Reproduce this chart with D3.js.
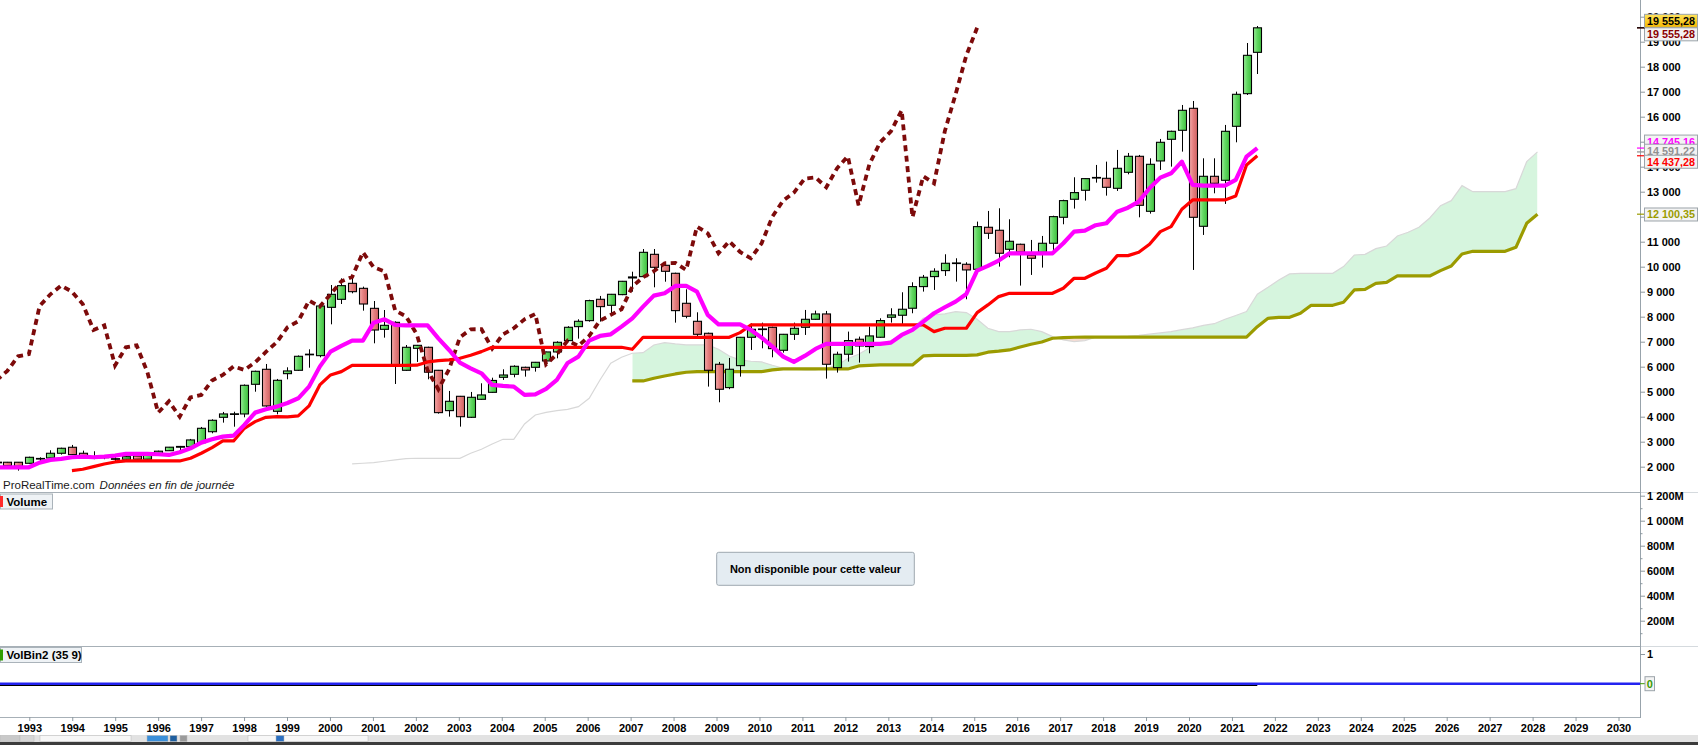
<!DOCTYPE html>
<html><head><meta charset="utf-8">
<script src="https://cdn.jsdelivr.net/npm/d3@7"></script>
<style>
body{margin:0;background:#fff;overflow:hidden;}
svg{display:block;font-family:"Liberation Sans",Arial,sans-serif;}
</style></head><body>
<svg id="c" width="1698" height="745"></svg>
<script>
// ---------- DATA (quarterly candles, index -1 .. 116) ----------
const candleStart = -1;
const openV = [2180,2178,2178,2136,2310,2350,2537,2777,2537,2400,
 2370,2320,2300,2430,2300,2530,2640,2780,2800,2960,
 3400,3976,4105,4110,5296,5896,4216,5722,5856,6480,
 6442,8375,8695,9335,9135,8335,7495,7775,5856,6735,
 6776,5856,4243,4816,3976,4696,4975,5576,5696,5976,
 5976,6230,6590,7043,7603,7843,8696,8456,8883,9550,
 9603,10495,10056,9736,8536,7816,7336,6097,5164,6043,
 7176,7510,7576,6657,7296,7576,7896,8110,5964,6498,
 7098,6804,7178,7978,8058,8338,9204,9604,9844,10130,
 10097,9897,11577,11457,10697,10897,10457,10577,10937,11977,
 12697,13057,13560,13536,13136,13776,14416,12216,14230,15096,
 15456,16336,11616,13616,13456,15616,16922,18575];
const highV = [2200,2190,2180,2400,2376,2657,2760,2870,2643,2617,
 2450,2380,2420,2450,2480,2640,2790,2830,3110,3590,
 3896,4190,4200,5290,5840,6109,5510,5976,6450,6696,
 8450,9268,9535,9575,9202,8628,8268,7815,6868,6870,
 6800,5870,5030,4830,4990,5336,5560,5896,6056,6000,
 6190,6600,7016,7620,7896,8680,8830,8910,9430,9800,
 10708,10708,10200,9760,9096,8176,7363,6190,6350,7190,
 7736,7763,7600,7310,7763,8270,8243,8230,6600,7404,
 7204,7604,7938,8337,8977,9377,9670,9937,10497,10337,
 10177,11804,12230,12337,11897,10920,11070,11230,12040,12680,
 13577,13530,14070,14203,14670,14550,14470,14336,15110,15440,
 16469,16629,14336,14336,15670,17002,18948,19628];
const lowV = [2150,2020,1843,2120,2200,2330,2483,2470,2390,2300,
 2300,2200,2280,2290,2290,2520,2630,2560,2790,2950,
 3336,3763,3600,3976,5000,4400,4096,5496,5830,5960,
 6376,7695,8508,8935,8242,6936,7162,5309,5830,6190,
 5496,4123,4003,3603,3950,4680,4960,5470,5576,5603,
 5803,6096,6336,7000,7123,7800,7803,8030,8860,9000,
 9580,9176,9400,7763,7936,7203,5204,4577,5100,5603,
 6670,6736,6376,6563,7070,7270,7880,5524,5764,6204,
 6164,6537,7160,7764,7711,8138,9004,9071,9631,9404,
 8697,9737,11110,10004,10377,9244,9671,9964,10670,11697,
 12324,12644,13363,12843,13030,13696,11976,12123,13870,14003,
 14603,9870,11270,12936,12510,14976,16868,17708];
const closeV = [2170,2040,2017,2376,2330,2537,2737,2483,2403,2380,
 2385,2310,2400,2300,2470,2620,2780,2810,3070,3536,
 3856,4110,4115,5256,5816,4430,5456,5830,6416,6500,
 8428,8895,9242,9001,8508,7468,7655,6050,6776,6855,
 5780,4163,4616,4000,4776,4870,5450,5668,6016,5870,
 6176,6590,6976,7576,7816,8643,8403,8896,9416,9590,
 10575,9976,9816,8243,8016,7296,5857,5097,5897,7176,
 7496,7500,6723,7296,7536,7896,8110,6097,6497,7045,
 6830,7231,7844,8071,8298,9204,9577,9817,10137,10150,
 9871,11603,11337,10537,11017,10590,10337,10937,12003,12643,
 12964,13523,13570,13176,13936,14416,12456,14096,14976,15416,
 16256,11976,13616,13336,15416,16896,18455,19555.28];

// Tenkan (magenta), index -1 .. 116
const tenkanStart = -1;
const tenkanV = [1977,1977,1977,1977,2163,2270,2310,2377,2403,2377,
 2403,2443,2510,2510,2510,2497,2470,2577,2737,2963,
 3096,3203,3243,3670,4163,4296,4403,4550,4736,5203,
 6003,6603,6829,7042,7042,7762,7895,7669,7656,7656,
 7656,7136,6669,6163,5936,5736,5270,5230,5203,4870,
 4896,5110,5470,6150,6403,7043,7230,7296,7603,7936,
 8403,8843,8936,9230,9230,9003,8070,7696,7696,7696,
 7470,7163,6803,6403,6190,6430,6710,6910,6910,6911,
 6911,6911,6911,6964,7271,7471,7804,8138,8378,8604,
 8911,9844,10031,10244,10537,10537,10537,10537,10537,10937,
 11404,11444,11660,11736,12201,12361,12601,13136,13563,13736,
 14203,13270,13243,13243,13243,13470,14403,14745.16];

// Kijun (red), index 6 .. 116
const kijunStart = 6;
const kijunV = [1843,1897,2003,2110,2190,2230,2230,2230,2230,2230,
 2230,2337,2537,2763,3030,3030,3536,3803,3976,4003,
 3990,4030,4430,5270,5670,5803,6056,6056,6056,6056,
 6056,6056,6060,6190,6243,6270,6336,6456,6603,6776,
 6776,6776,6776,6776,6776,6776,6776,6776,6776,6776,
 6776,6776,6697,7176,7176,7176,7176,7176,7176,7176,
 7176,7176,7363,7670,7670,7670,7670,7670,7670,7670,
 7670,7670,7670,7670,7670,7670,7670,7670,7670,7670,
 7404,7538,7538,7538,8164,8471,8804,8937,8937,8937,
 8937,8937,9138,9537,9537,9750,9938,10444,10444,10577,
 10897,11404,11604,12297,12670,12670,12670,12670,12830,14070,
 14437.28];

// Senkou span A (cloud upper, grey), index 32 .. 142
const spanAStart = 32;
const spanAV = [2110,2137,2163,2217,2270,2323,2337,2337,2337,2337,
 2337,2537,2697,2910,3096,3096,3710,4070,4176,4243,
 4290,4404,4737,5470,6137,6377,6537,6563,6870,6963,
 6910,6870,6870,6870,6697,6430,6270,6217,6190,6057,
 5937,5897,5870,5870,5937,6050,6330,6500,6750,6900,
 7045,7271,7538,7938,8071,8111,8204,8164,7897,7538,
 7404,7404,7471,7498,7404,7204,7071,7004,7045,7178,
 7200,7200,7220,7250,7300,7350,7400,7480,7550,7650,
 7720,7900,8050,8203,8900,9176,9470,9710,9736,9736,
 9736,9736,10003,10469,10496,10722,10829,11229,11376,11576,
 11949,12442,12642,13242,13002,13002,13002,13002,13122,14201,
 14591.22];

// Senkou span B (olive), index 58 .. 142
const spanBStart = 58;
const spanBV = [5430,5430,5537,5630,5710,5777,5803,5803,5803,5803,
 5803,5803,5803,5870,5910,5910,5910,5910,5910,5910,
 5910,6031,6051,6071,6071,6071,6071,6431,6450,6450,
 6450,6450,6471,6580,6620,6671,6790,6900,6990,7138,
 7160,7178,7180,7180,7180,7180,7180,7180,7180,7180,
 7180,7180,7180,7180,7180,7180,7180,7180,7600,7936,
 7976,7976,8136,8456,8456,8456,8576,9070,9096,9336,
 9376,9630,9630,9630,9630,9843,10029,10509,10616,10616,
 10616,10616,10776,11735,12100.35];

const chikouShift = 26;
const priceTicks = [2000,3000,4000,5000,6000,7000,8000,9000,10000,11000,12000,13000,14000,15000,16000,17000,18000,19000,20000];
const volMajorTicks = [200,400,600,800,1000,1200];
const volMinorTicks = [100,300,500,700,900,1100];
const volBinTicks = [1];
const yearTicks = [1993,1994,1995,1996,1997,1998,1999,2000,2001,2002,2003,2004,2005,2006,2007,2008,2009,2010,2011,2012,2013,2014,2015,2016,2017,2018,2019,2020,2021,2022,2023,2024,2025,2026,2027,2028,2029,2030];
const lastIndex = 116;

// ---------- LAYOUT ----------
const W = 1698, axisX = 1640, priceBottom = 492, volBottom = 646, xAxisY = 717;
const svg = d3.select('#c');
const loc = d3.formatLocale({decimal: ",", thousands: "\u00a0", grouping: [3], currency: ["", ""]});
const fmtInt = loc.format(",d");
const fmt2 = loc.format(",.2f");

const xi = d3.scaleLinear().domain([0, lastIndex]).range([7.3, 1257.3]);
const xYear = d3.scaleLinear().domain([1993, 2030]).range([29.3, 1618.5]);
const yP = d3.scaleLinear().domain([2000, 20000]).range([466.7, 16.7]);
const yVol = d3.scaleLinear().domain([0, 1200]).range([645.7, 495.7]);
const yVB = d3.scaleLinear().domain([0, 1]).range([683.7, 654]);

const defs = svg.append('defs');
defs.append('clipPath').attr('id', 'pclip').append('rect')
  .attr('x', 0).attr('y', 0).attr('width', axisX).attr('height', priceBottom);
function grad(id, stops) {
  const g = defs.append('linearGradient').attr('id', id).attr('x1', 0).attr('x2', 1).attr('y1', 0).attr('y2', 0);
  stops.forEach(s => g.append('stop').attr('offset', s[0]).attr('stop-color', s[1]));
}
grad('gUp', [[0, '#9cec9c'], [0.45, '#62d862'], [1, '#3fbf3f']]);
grad('gDn', [[0, '#f5aaaa'], [0.45, '#e58080'], [1, '#d06262']]);
const gy = defs.append('linearGradient').attr('id', 'gYel').attr('x1', 0).attr('x2', 0).attr('y1', 0).attr('y2', 1);
gy.append('stop').attr('offset', 0).attr('stop-color', '#ffe45c');
gy.append('stop').attr('offset', 1).attr('stop-color', '#f5b800');

// ---------- build series ----------
const candles = openV.map((o, k) => ({i: k + candleStart, o, h: highV[k], l: lowV[k], c: closeV[k]}));
const tenkan = tenkanV.map((v, k) => ({i: k + tenkanStart, v}));
const kijun = kijunV.map((v, k) => ({i: k + kijunStart, v}));
const spanA = spanAV.map((v, k) => ({i: k + spanAStart, v}));
const cloud = spanBV.map((b, k) => ({i: k + spanBStart, b, a: spanAV[k + spanBStart - spanAStart]}));
const spanB = cloud.map(d => ({i: d.i, v: d.b}));
const chikou = candles.filter(d => d.i - chikouShift >= candleStart).map(d => ({i: d.i - chikouShift, v: d.c}));

const P = svg.append('g').attr('clip-path', 'url(#pclip)');
const lineGen = d3.line().x(d => xi(d.i)).y(d => yP(d.v));

// cloud (difference fill)
defs.append('clipPath').attr('id', 'aboveB').append('path')
  .attr('d', d3.area().x(d => xi(d.i)).y0(0).y1(d => yP(d.b))(cloud));
defs.append('clipPath').attr('id', 'belowB').append('path')
  .attr('d', d3.area().x(d => xi(d.i)).y0(priceBottom).y1(d => yP(d.b))(cloud));
const cloudArea = d3.area().x(d => xi(d.i)).y0(d => yP(d.b)).y1(d => yP(d.a));
P.append('path').attr('d', cloudArea(cloud)).attr('fill', '#d6f5de').attr('clip-path', 'url(#aboveB)');
P.append('path').attr('d', cloudArea(cloud)).attr('fill', '#f7dcd4').attr('clip-path', 'url(#belowB)');
P.append('path').attr('d', lineGen(spanA)).attr('fill', 'none').attr('stroke', '#d8d8d8').attr('stroke-width', 1.2);
P.append('path').attr('d', lineGen(spanB)).attr('fill', 'none').attr('stroke', '#9b9b00').attr('stroke-width', 3.2).attr('stroke-linejoin', 'round');

// candles
const cg = P.append('g');
cg.selectAll('line.w').data(candles).join('line')
  .attr('x1', d => Math.round(xi(d.i)) + 0.5).attr('x2', d => Math.round(xi(d.i)) + 0.5)
  .attr('y1', d => yP(d.h)).attr('y2', d => yP(d.l))
  .attr('stroke', '#000').attr('stroke-width', 1);
cg.selectAll('rect.b').data(candles).join('rect')
  .attr('x', d => Math.round(xi(d.i)) - 3.5)
  .attr('width', 8)
  .attr('y', d => yP(Math.max(d.o, d.c)))
  .attr('height', d => Math.max(0.6, Math.abs(yP(d.o) - yP(d.c))))
  .attr('fill', d => d.c >= d.o ? 'url(#gUp)' : 'url(#gDn)')
  .attr('stroke', '#000').attr('stroke-width', 1.1);

// lines
P.append('path').attr('d', lineGen(chikou)).attr('fill', 'none').attr('stroke', '#7d0a0a')
  .attr('stroke-width', 3.8).attr('stroke-dasharray', '6,4.5');
P.append('path').attr('d', lineGen(kijun)).attr('fill', 'none').attr('stroke', '#ff0000').attr('stroke-width', 3.2).attr('stroke-linejoin', 'round');
P.append('path').attr('d', lineGen(tenkan)).attr('fill', 'none').attr('stroke', '#ff00ff').attr('stroke-width', 4.2).attr('stroke-linejoin', 'round');

// ---------- frames ----------
svg.append('line').attr('x1', 0).attr('x2', axisX).attr('y1', priceBottom + 0.5).attr('y2', priceBottom + 0.5).attr('stroke', '#a7b0b7');
svg.append('line').attr('x1', axisX).attr('x2', W).attr('y1', priceBottom + 0.5).attr('y2', priceBottom + 0.5).attr('stroke', '#d5dade');
svg.append('line').attr('x1', 0).attr('x2', axisX).attr('y1', volBottom + 0.5).attr('y2', volBottom + 0.5).attr('stroke', '#a7b0b7');
svg.append('line').attr('x1', axisX).attr('x2', W).attr('y1', volBottom + 0.5).attr('y2', volBottom + 0.5).attr('stroke', '#d5dade');
svg.append('line').attr('x1', 0).attr('x2', axisX).attr('y1', xAxisY + 0.5).attr('y2', xAxisY + 0.5).attr('stroke', '#a7b0b7');
svg.append('line').attr('x1', axisX + 0.5).attr('x2', axisX + 0.5).attr('y1', 0).attr('y2', xAxisY + 1).attr('stroke', '#98a3ab');

function styleAxis(g) {
  g.select('.domain').remove();
  g.selectAll('.tick line').attr('stroke', '#8d989f');
  g.selectAll('.tick text').attr('fill', '#000').style('font-weight', 'bold').style('font-size', '11px')
    .style('font-family', '"Liberation Sans",Arial,sans-serif');
}
// price axis
svg.append('g').attr('transform', `translate(${axisX},0)`)
  .call(d3.axisRight(yP).tickValues(priceTicks).tickSize(5).tickPadding(2).tickFormat(fmtInt)).call(styleAxis);
// volume axis
svg.append('g').attr('transform', `translate(${axisX},0)`)
  .call(d3.axisRight(yVol).tickValues(volMinorTicks).tickSize(2.5).tickFormat('')).call(styleAxis);
svg.append('g').attr('transform', `translate(${axisX},0)`)
  .call(d3.axisRight(yVol).tickValues(volMajorTicks).tickSize(5).tickPadding(2).tickFormat(d => fmtInt(d) + 'M')).call(styleAxis);
// volbin axis
svg.append('g').attr('transform', `translate(${axisX},0)`)
  .call(d3.axisRight(yVB).tickValues(volBinTicks).tickSize(5).tickPadding(2).tickFormat(d3.format('d'))).call(styleAxis);
// x axis
svg.append('g').attr('transform', `translate(0,${xAxisY})`)
  .call(d3.axisBottom(xYear).tickValues(yearTicks).tickSize(4).tickPadding(3).tickFormat(d3.format('d'))).call(styleAxis);

// ---------- value boxes on the right axis ----------
function valueBox(val, dy, color, fill) {
  const yc = yP(val) + dy;
  svg.append('line').attr('x1', axisX - 3).attr('x2', axisX + 5).attr('y1', yP(val)).attr('y2', yP(val)).attr('stroke', color).attr('stroke-width', 1.2);
  svg.append('rect').attr('x', 1644.5).attr('y', yc - 6.5).attr('width', 53).attr('height', 13)
    .attr('fill', fill).attr('stroke', '#9ca4aa').attr('stroke-width', 1);
  svg.append('text').attr('x', 1647).attr('y', yc + 4).text(fmt2(val))
    .attr('fill', color).style('font-weight', 'bold').style('font-size', '10.8px');
}
const lastClose = closeV[closeV.length - 1];
valueBox(lastClose, 6.5, '#8b0000', '#f3f3f3');
valueBox(lastClose, -7, '#000', 'url(#gYel)');
valueBox(tenkanV[tenkanV.length - 1], -6.5, '#ff00ff', '#f3f3f3');
valueBox(spanAV[spanAV.length - 1], -1.2, '#909090', '#f3f3f3');
valueBox(kijunV[kijunV.length - 1], 6, '#ff0000', '#f3f3f3');
valueBox(spanBV[spanBV.length - 1], 0.3, '#9b9b00', '#f3f3f3');

// ---------- texts / panels ----------
const t = svg.append('text').attr('x', 3).attr('y', 488.5).style('font-size', '11.5px').attr('fill', '#1a1a1a');
t.append('tspan').text('ProRealTime.com');
t.append('tspan').attr('dx', 5).style('font-style', 'italic').text('Données en fin de journée');

function panelLabel(y, w, txt, col) {
  svg.append('rect').attr('x', 0.5).attr('y', y).attr('width', w).attr('height', 15)
    .attr('fill', '#eef2f5').attr('stroke', '#aab3ba');
  svg.append('rect').attr('x', 0).attr('y', y + 2).attr('width', 3).attr('height', 11).attr('fill', col);
  svg.append('text').attr('x', 6.5).attr('y', y + 11.5).text(txt).style('font-weight', 'bold').style('font-size', '11.5px').attr('fill', '#000');
}
panelLabel(494, 52, 'Volume', '#ff2a2a');
panelLabel(647.5, 81, 'VolBin2 (35 9)', '#2f9e00');

svg.append('rect').attr('x', 716.7).attr('y', 552.3).attr('width', 197.6).attr('height', 33).attr('rx', 2)
  .attr('fill', '#e4ecf2').attr('stroke', '#9ea8b0');
svg.append('text').attr('x', 815.5).attr('y', 572.5).attr('text-anchor', 'middle').text('Non disponible pour cette valeur')
  .style('font-weight', 'bold').style('font-size', '11px').attr('fill', '#000');

// VolBin2 line
svg.append('line').attr('x1', 0).attr('x2', xi(lastIndex)).attr('y1', yVB(0) + 1.8).attr('y2', yVB(0) + 1.8).attr('stroke', '#000').attr('stroke-width', 1.2);
svg.append('line').attr('x1', 0).attr('x2', axisX).attr('y1', yVB(0)).attr('y2', yVB(0)).attr('stroke', '#2323f0').attr('stroke-width', 2.4);
svg.append('line').attr('x1', axisX).attr('x2', axisX + 5).attr('y1', yVB(0)).attr('y2', yVB(0)).attr('stroke', '#3a9a00');
svg.append('rect').attr('x', 1645).attr('y', yVB(0) - 7).attr('width', 9.5).attr('height', 14).attr('fill', '#f3f3f3').attr('stroke', '#9ca4aa');
svg.append('text').attr('x', 1646.8).attr('y', yVB(0) + 4).text('0').attr('fill', '#3a9a00').style('font-weight', 'bold').style('font-size', '11px');

// bottom toolbar
svg.append('rect').attr('x', 0).attr('y', 735).attr('width', W).attr('height', 7).attr('fill', '#e2e2e2');
[[0, 20, '#c9c9c9'], [20, 14, '#d6d6d6'], [40, 91, '#f7f7f7'], [147, 21, '#3b8fd9'], [170, 7, '#1f5f9f'], [180, 7, '#9a9a9a'], [248, 120, '#f7f7f7'], [276, 8, '#2b6fc0']]
  .forEach(r => svg.append('rect').attr('x', r[0]).attr('y', 735.5).attr('width', r[1]).attr('height', 6).attr('fill', r[2]).attr('stroke', '#b8b8b8').attr('stroke-width', 0.5));
svg.append('rect').attr('x', 0).attr('y', 742).attr('width', W).attr('height', 3).attr('fill', '#3c3c3c');
</script>
</body></html>
